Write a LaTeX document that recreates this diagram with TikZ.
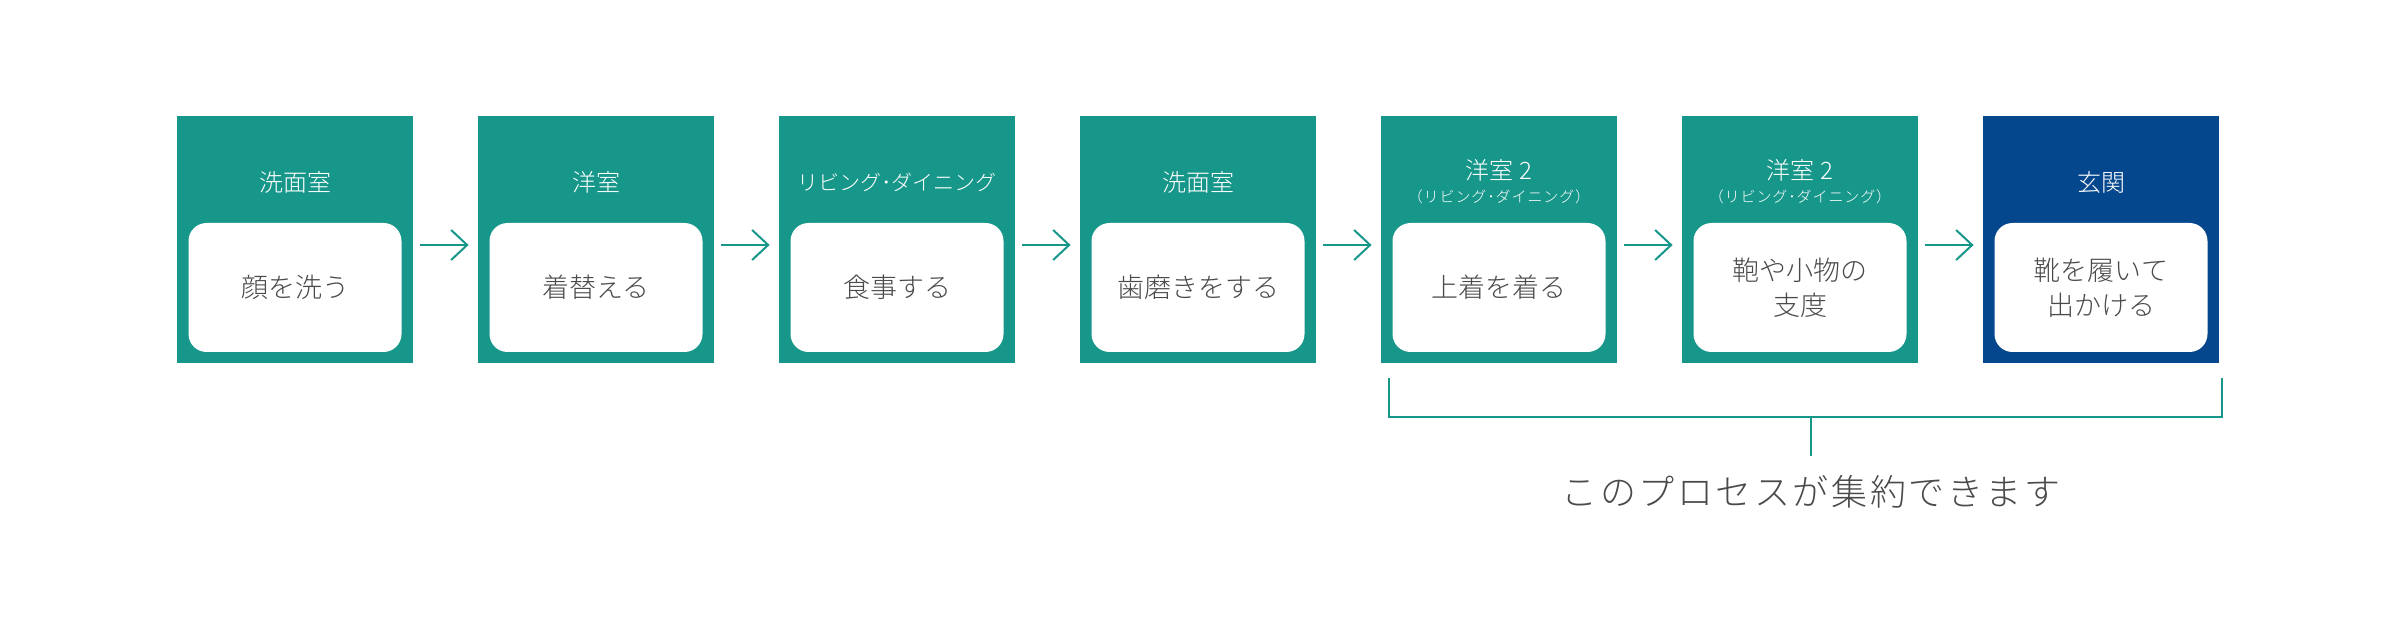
\documentclass[tikz,border=0pt]{standalone}
\usepackage{fontspec}
\setmainfont{Noto Sans CJK JP Light}
\newfontfamily\notefont[LetterSpace=7]{Noto Sans CJK JP Light}
\newfontfamily\subfont[LetterSpace=6]{Noto Sans CJK JP Light}
\usetikzlibrary{arrows.meta}
\definecolor{roomgreen}{HTML}{17968A}
\definecolor{roomblue}{HTML}{04478C}
\definecolor{textgray}{HTML}{4A4A4A}
\begin{document}
\begin{tikzpicture}[x=0.5pt,y=-0.5pt,
	room/.style={fill=roomgreen, minimum width=118pt, minimum height=123.5pt, inner sep=0pt},
	task/.style={fill=white, rounded corners=9pt, minimum width=106.5pt, minimum height=64.5pt, inner sep=0pt, text=textgray, align=center, font=\fontsize{13.5}{17.5}\selectfont},
	head/.style={text=white, font=\fontsize{12}{14}\selectfont},
	sub/.style={text=white, font=\subfont\fontsize{7.5}{8}\selectfont},
	arr/.style={roomgreen, line width=1pt, -{Straight Barb[length=8pt,width=15pt]}},
	brace/.style={roomgreen, line width=1pt}]
		\useasboundingbox (0,0) rectangle (2400,620);
		% rooms
		\node[room] (r1) at (295,239.5) {};
		\node[room] (r2) at (596,239.5) {};
		\node[room] (r3) at (897,239.5) {};
		\node[room] (r4) at (1198,239.5) {};
		\node[room] (r5) at (1499,239.5) {};
		\node[room] (r6) at (1800,239.5) {};
		\node[room, fill=roomblue] (r7) at (2101,239.5) {};
		% room names
		\node[head] (h1) at (295,182) {洗面室};
		\node[head] (h2) at (596,182) {洋室};
		\node[head, font=\fontsize{10.5}{12}\selectfont] (h3) at (897,182) {リビング･ダイニング};
		\node[head] (h4) at (1198,182) {洗面室};
		\node[head] (h5) at (1499,170) {洋室 2};
		\node[sub] (s5) at (1499,197) {（リビング･ダイニング）};
		\node[head] (h6) at (1800,170) {洋室 2};
		\node[sub] (s6) at (1800,197) {（リビング･ダイニング）};
		\node[head] (h7) at (2101,182) {玄関};
		% tasks
		\node[task] (t1) at (295,287.5) {顔を洗う};
		\node[task] (t2) at (596,287.5) {着替える};
		\node[task] (t3) at (897,287.5) {食事する};
		\node[task] (t4) at (1198,287.5) {歯磨きをする};
		\node[task] (t5) at (1499,287.5) {上着を着る};
		\node[task] (t6) at (1800,287.5) {鞄や小物の\\支度};
		\node[task] (t7) at (2101,287.5) {靴を履いて\\出かける};
		% arrows
		\draw[arr] ([xshift=3.5pt,yshift=-2.75pt]r1.east) -- ([xshift=-4.5pt,yshift=-2.75pt]r2.west);
		\draw[arr] ([xshift=3.5pt,yshift=-2.75pt]r2.east) -- ([xshift=-4.5pt,yshift=-2.75pt]r3.west);
		\draw[arr] ([xshift=3.5pt,yshift=-2.75pt]r3.east) -- ([xshift=-4.5pt,yshift=-2.75pt]r4.west);
		\draw[arr] ([xshift=3.5pt,yshift=-2.75pt]r4.east) -- ([xshift=-4.5pt,yshift=-2.75pt]r5.west);
		\draw[arr] ([xshift=3.5pt,yshift=-2.75pt]r5.east) -- ([xshift=-4.5pt,yshift=-2.75pt]r6.west);
		\draw[arr] ([xshift=3.5pt,yshift=-2.75pt]r6.east) -- ([xshift=-4.5pt,yshift=-2.75pt]r7.west);
		% bracket
		\coordinate (bl) at (1389,378);
		\coordinate (br) at (2222,378);
		\coordinate (stem) at (1811,417);
		\draw[brace] (bl) -- ++(0,39) -| (br);
		\draw[brace] (stem) -- ++(0,39);
		\node[text=textgray, font=\notefont\fontsize{18}{20}\selectfont] (note) at (1811,492) {このプロセスが集約できます};
\end{tikzpicture}
\end{document}
